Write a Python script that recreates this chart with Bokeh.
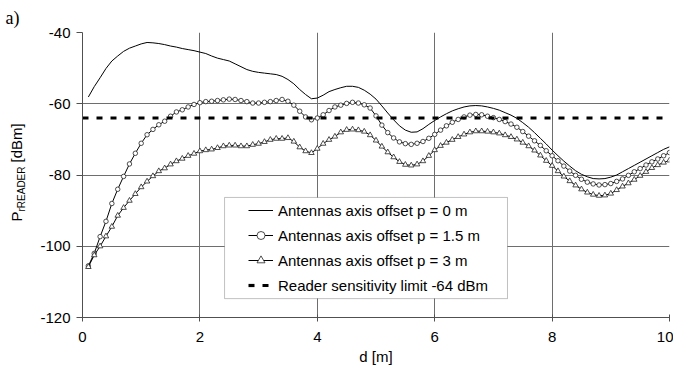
import math
from bokeh.plotting import figure
from bokeh.layouts import row
from bokeh.core.properties import value
from bokeh.models import Legend, LegendItem, BoxAnnotation, FixedTicker, Range1d, Title
from bokeh.embed import file_html
from bokeh.resources import INLINE

# distance d [m]
d_m = [0.1, 0.2, 0.3, 0.4, 0.5, 0.6, 0.7, 0.8, 0.9, 1.0,
       1.1, 1.2, 1.3, 1.4, 1.5, 1.6, 1.7, 1.8, 1.9, 2.0,
       2.1, 2.2, 2.3, 2.4, 2.5, 2.6, 2.7, 2.8, 2.9, 3.0,
       3.1, 3.2, 3.3, 3.4, 3.5, 3.6, 3.7, 3.8, 3.9, 4.0,
       4.1, 4.2, 4.3, 4.4, 4.5, 4.6, 4.7, 4.8, 4.9, 5.0,
       5.1, 5.2, 5.3, 5.4, 5.5, 5.6, 5.7, 5.8, 5.9, 6.0,
       6.1, 6.2, 6.3, 6.4, 6.5, 6.6, 6.7, 6.8, 6.9, 7.0,
       7.1, 7.2, 7.3, 7.4, 7.5, 7.6, 7.7, 7.8, 7.9, 8.0,
       8.1, 8.2, 8.3, 8.4, 8.5, 8.6, 8.7, 8.8, 8.9, 9.0,
       9.1, 9.2, 9.3, 9.4, 9.5, 9.6, 9.7, 9.8, 9.9, 10.0]

# offset p = 0 m
p_0 = [-58.1, -55.2, -52.7, -50.1, -48.0, -46.6, -45.3, -44.4, -43.8, -43.2,
       -42.8, -42.9, -43.1, -43.4, -43.8, -44.1, -44.5, -44.8, -45.1, -45.5,
       -45.9, -46.6, -47.2, -47.6, -48.0, -48.8, -49.6, -50.4, -50.9, -51.2,
       -51.4, -51.6, -51.8, -52.3, -53.2, -54.4, -56.0, -57.4, -58.6, -58.4,
       -57.6, -56.6, -56.0, -55.5, -55.1, -55.1, -55.4, -56.2, -57.3, -58.7,
       -60.6, -62.6, -64.5, -66.2, -67.4, -68.0, -67.9, -67.0, -65.8, -64.7,
       -63.7, -62.8, -62.0, -61.4, -60.9, -60.6, -60.5, -60.6, -60.9, -61.3,
       -61.8, -62.5, -63.2, -64.1, -65.3, -66.6, -68.1, -69.7, -71.3, -73.0,
       -74.6, -76.1, -77.5, -78.8, -79.8, -80.5, -81.0, -81.1, -81.0, -80.6,
       -80.0, -79.1, -78.2, -77.3, -76.4, -75.5, -74.6, -73.7, -72.8, -72.1]

# offset p = 1.5 m
p_15 = [-105.5, -102.0, -97.3, -93.0, -88.0, -84.0, -80.4, -76.9, -73.9, -71.1,
        -68.7, -67.2, -65.9, -64.9, -63.5, -62.3, -61.7, -60.9, -60.2, -59.7,
        -59.4, -59.3, -59.1, -58.9, -58.7, -58.8, -59.1, -59.4, -59.8, -59.8,
        -59.6, -59.4, -59.1, -58.8, -59.3, -60.4, -62.1, -63.7, -64.5, -64.0,
        -63.1, -61.9, -60.9, -60.4, -59.9, -59.6, -59.8, -60.3, -61.2, -63.4,
        -66.0, -68.1, -69.6, -70.7, -71.2, -71.4, -71.1, -70.6, -69.7, -68.6,
        -67.4, -66.2, -65.2, -64.4, -63.7, -63.2, -63.0, -63.1, -63.5, -63.9,
        -64.4, -65.0, -65.7, -66.6, -67.8, -69.1, -70.4, -71.7, -73.2, -74.6,
        -76.0, -77.5, -78.9, -80.1, -81.2, -82.0, -82.5, -82.8, -82.7, -82.4,
        -81.8, -81.1, -80.1, -79.1, -78.2, -77.2, -76.3, -75.5, -74.6, -73.7]

# offset p = 3 m
p_3 = [-105.8, -102.5, -100.0, -97.2, -94.5, -91.4, -89.2, -87.2, -85.3, -83.4,
       -81.8, -80.3, -78.9, -78.1, -77.0, -76.1, -75.4, -74.6, -74.0, -73.3,
       -73.0, -72.8, -72.4, -71.9, -71.7, -71.7, -71.9, -71.9, -71.5, -71.2,
       -70.7, -70.1, -69.8, -69.8, -69.6, -70.6, -72.2, -73.3, -73.8, -72.6,
       -71.2, -70.1, -69.2, -68.0, -67.3, -67.2, -67.4, -67.8, -68.8, -70.3,
       -72.0, -73.6, -75.0, -76.3, -77.1, -77.3, -77.0, -76.1, -74.6, -73.0,
       -71.8, -70.9, -70.1, -69.3, -68.6, -68.0, -67.7, -67.7, -67.8, -68.0,
       -68.3, -68.8, -69.3, -70.0, -70.9, -71.9, -73.1, -74.5, -76.0, -77.4,
       -78.9, -80.4, -81.7, -82.9, -84.0, -84.9, -85.5, -85.8, -85.7, -85.2,
       -84.2, -83.2, -82.3, -81.3, -80.2, -79.1, -78.0, -77.2, -76.5, -75.9]

# reader sensitivity limit
limit_d = [0, 10]
limit_dbm = [-64, -64]

x_ticks = [0, 2, 4, 6, 8, 10]
y_ticks = [-120, -100, -80, -60, -40]
x_tick_labels = ["0", "2", "4", "6", "8", "10"]
y_tick_labels = ["-120", "-100", "-80", "-60", "-40"]

labels = ["Antennas axis offset p = 0 m",
          "Antennas axis offset p = 1.5 m",
          "Antennas axis offset p = 3 m",
          "Reader sensitivity limit -64 dBm"]

FONT = "Liberation Sans"
GRID = "#6e6e6e"
AX = "#505050"
LEFT_W = 36
H = 373
TOP = 32
BOTTOM = 56

# ---- narrow left strip: panel tag and y-axis title ----
# its frame is aligned with the main frame; data y = canvas distance from the top, flipped
side = figure(width=LEFT_W, height=H, output_backend="svg", toolbar_location=None,
              x_range=Range1d(0, LEFT_W), y_range=Range1d(BOTTOM, H - TOP),
              x_axis_type=None, y_axis_type=None, min_border=0,
              min_border_top=TOP, min_border_bottom=BOTTOM)
side.outline_line_color = None
side.grid.visible = False
side.background_fill_color = "white"
side.border_fill_color = "white"

UP = math.pi / 2
side.text(x=[24], y=[H - 221], text=["P"], angle=UP,
          text_font=value(FONT), text_font_size=value("15px"), text_color="black",
          text_align="left", text_baseline="bottom")
side.text(x=[26], y=[H - 211], text=["rREADER"], angle=UP,
          text_font=value(FONT), text_font_size=value("10px"), text_color="black",
          text_align="left", text_baseline="bottom")
side.text(x=[24], y=[H - 162], text=["[dBm]"], angle=UP,
          text_font=value(FONT), text_font_size=value("15px"), text_color="black",
          text_align="left", text_baseline="bottom")

side.add_layout(Title(text="a)", align="left", offset=5, standoff=10,
                      text_font="Liberation Serif", text_font_size="18px",
                      text_font_style="normal", text_color="black",
                      vertical_align="bottom"), "above")

# ---- main chart ----
p = figure(width=673 - LEFT_W, height=H, output_backend="svg", toolbar_location=None,
           x_range=Range1d(0, 10), y_range=Range1d(-120, -40),
           min_border_left=82 - LEFT_W, min_border_right=4, min_border_top=TOP,
           min_border_bottom=BOTTOM)
p.outline_line_color = None
p.background_fill_color = "white"
p.border_fill_color = "white"

p.xaxis.ticker = FixedTicker(ticks=x_ticks)
p.yaxis.ticker = FixedTicker(ticks=y_ticks)
p.xaxis.major_label_overrides = dict(zip(x_ticks, x_tick_labels))
p.yaxis.major_label_overrides = dict(zip(y_ticks, y_tick_labels))
p.xgrid.ticker = FixedTicker(ticks=x_ticks)
p.ygrid.ticker = FixedTicker(ticks=y_ticks)
for g in (p.xgrid, p.ygrid):
    g.grid_line_color = GRID
    g.grid_line_width = 1

for ax in (p.xaxis, p.yaxis):
    ax.axis_line_color = AX
    ax.major_tick_line_color = AX
    ax.minor_tick_line_color = None
    ax.major_label_text_font = FONT
    ax.major_label_text_font_size = "15px"
    ax.major_label_text_color = "black"

p.xaxis.major_tick_in = 3
p.xaxis.major_tick_out = 4
p.xaxis.major_label_standoff = 10
p.xaxis.axis_label = "d [m]"
p.xaxis.axis_label_text_font = FONT
p.xaxis.axis_label_text_font_size = "15px"
p.xaxis.axis_label_text_font_style = "normal"
p.xaxis.axis_label_text_color = "black"
p.xaxis.axis_label_standoff = 3

p.yaxis.major_tick_in = 0
p.yaxis.major_tick_out = 6
p.yaxis.major_label_standoff = 6

# series
r0 = p.line(d_m, p_0, line_color="black", line_width=1)
r15 = p.line(d_m, p_15, line_color="black", line_width=1)
r15m = p.scatter(d_m, p_15, marker="circle", size=4.5, line_color="#222222",
                 fill_color="white", line_width=0.8)
r3 = p.line(d_m, p_3, line_color="black", line_width=1)
r3m = p.scatter(d_m, p_3, marker="triangle", size=5.5, line_color="#222222",
                fill_color="white", line_width=0.8)
rl = p.line(limit_d, limit_dbm, line_color="black", line_width=3.2, line_dash="6 8")

# legend frame
box = BoxAnnotation(left=2.42, right=7.24, top=-86.3, bottom=-114.7,
                    fill_color="white", fill_alpha=1.0,
                    line_color="#333333", line_width=1)
p.add_layout(box)

legend = Legend(items=[LegendItem(label=labels[0], renderers=[r0]),
                       LegendItem(label=labels[1], renderers=[r15, r15m]),
                       LegendItem(label=labels[2], renderers=[r3, r3m]),
                       LegendItem(label=labels[3], renderers=[rl])],
                location=(166, 22), padding=0, spacing=5, margin=0,
                glyph_width=25, glyph_height=20, label_height=20, label_standoff=5,
                border_line_color=None, background_fill_alpha=0,
                label_text_font=FONT, label_text_font_size="15px",
                label_text_color="black")
p.add_layout(legend)

layout = row(side, p, spacing=0)
open("out.html", "w").write(file_html(layout, INLINE))
